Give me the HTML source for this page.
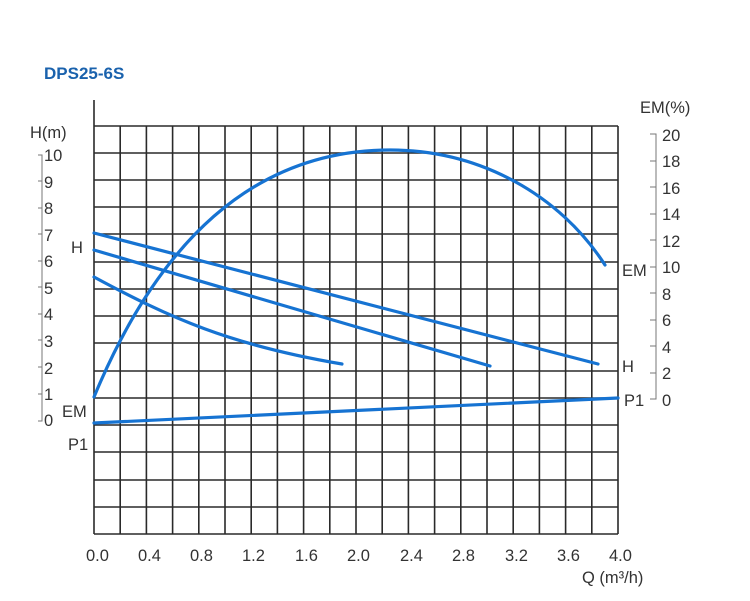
<!DOCTYPE html>
<html><head><meta charset="utf-8"><style>
body{margin:0;background:#fff;width:750px;height:596px;overflow:hidden}
text{font-family:"Liberation Sans",sans-serif;fill:#333}
</style></head><body>
<svg width="750" height="596" viewBox="0 0 750 596" xmlns="http://www.w3.org/2000/svg">
<text x="44" y="79" style="font-size:17px;font-weight:bold;fill:#1a62ad">DPS25-6S</text>
<g stroke="#2a2a2a" stroke-width="1.6" fill="none">
<line x1="94" y1="100" x2="94" y2="534"/>
<path d="
M94 126H618 M94 153H618 M94 180H618 M94 207H618 M94 234H618 M94 262H618 M94 289H618 M94 316H618 M94 343H618 M94 371H618 M94 398H618 M94 425H618 M94 452H618 M94 480H618 M94 507H618 M94 534H618
M120.2 126V534 M146.4 126V534 M172.6 126V534 M198.8 126V534 M225 126V534 M251.2 126V534 M277.4 126V534 M303.6 126V534 M329.8 126V534 M356 126V534 M382.2 126V534 M408.4 126V534 M434.6 126V534 M460.8 126V534 M487 126V534 M513.2 126V534 M539.4 126V534 M565.6 126V534 M591.8 126V534 M618 126V534"/>
</g>
<g stroke="#777" stroke-width="1" fill="none">
<path d="M38 155H42V421H38"/>
<path d="M38 181H42M38 208H42M38 234H42M38 261H42M38 287H42M38 314H42M38 340H42M38 367H42M38 394H42"/>
<path d="M650 134H656V399H650"/>
<path d="M650 161H656M650 187H656M650 214H656M650 240H656M650 267H656M650 293H656M650 320H656M650 346H656M650 373H656"/>
</g>
<g style="font-size:16.5px">
<text x="30" y="138">H(m)</text>
<text x="44" y="161">10</text><text x="44" y="188">9</text><text x="44" y="214">8</text><text x="44" y="241">7</text><text x="44" y="267">6</text><text x="44" y="294">5</text><text x="44" y="320">4</text><text x="44" y="347">3</text><text x="44" y="374">2</text><text x="44" y="400">1</text><text x="44" y="426">0</text>
<text x="71" y="253">H</text>
<text x="62" y="417">EM</text>
<text x="68" y="450">P1</text>
<text x="640" y="113">EM(%)</text>
<text x="662" y="141">20</text><text x="662" y="167">18</text><text x="662" y="194">16</text><text x="662" y="220">14</text><text x="662" y="247">12</text><text x="662" y="273">10</text><text x="662" y="300">8</text><text x="662" y="326">6</text><text x="662" y="353">4</text><text x="662" y="379">2</text><text x="662" y="406">0</text>
<text x="622" y="276">EM</text>
<text x="622" y="372">H</text>
<text x="624" y="406">P1</text>
<text x="86" y="561">0.0</text><text x="138" y="561">0.4</text><text x="190" y="561">0.8</text><text x="242" y="561">1.2</text><text x="295" y="561">1.6</text><text x="347" y="561">2.0</text><text x="400" y="561">2.4</text><text x="452" y="561">2.8</text><text x="505" y="561">3.2</text><text x="557" y="561">3.6</text><text x="609" y="561">4.0</text>
<text x="582" y="583">Q (m³/h)</text>
</g>
<g stroke="#1673d2" stroke-width="3.2" fill="none" stroke-linecap="round">
<path d="M94 233L598 364"/>
<path d="M94 250L490 366"/>
<path d="M94 277C170 318 230 345 342 364"/>
<path d="M94 397C150 262 240 150 390 150C480 150 560 195 605 265"/>
<path d="M94 423L618 398"/>
</g>
</svg>
</body></html>
